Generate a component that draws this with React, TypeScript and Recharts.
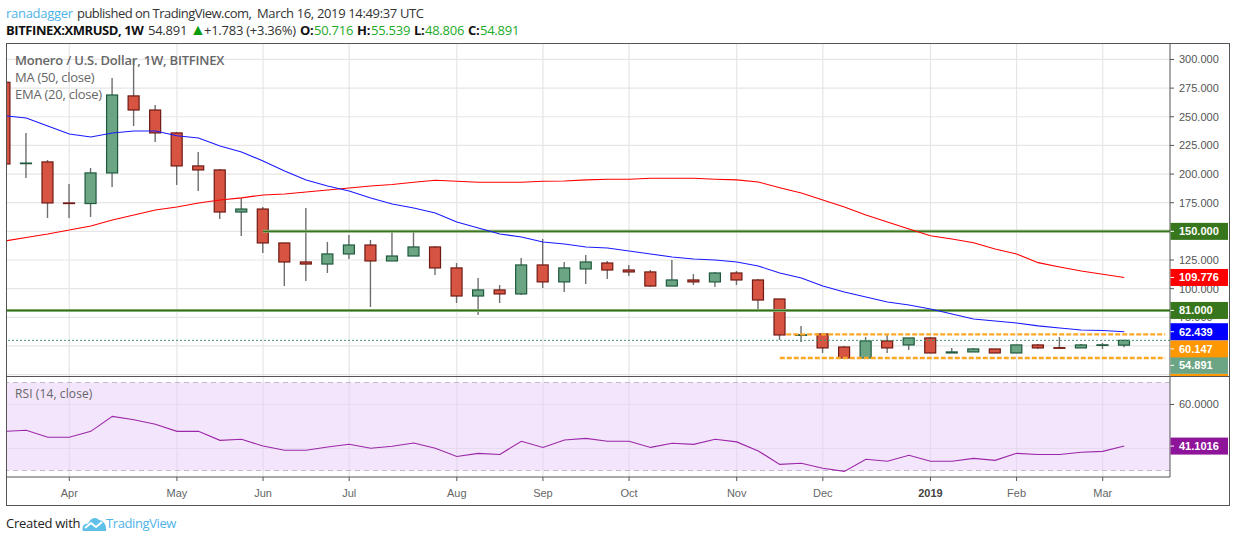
import {
  ComposedChart,
  LineChart,
  Bar,
  Line,
  XAxis,
  YAxis,
  CartesianGrid,
  ReferenceLine,
  ReferenceArea,
} from 'recharts';

// weekly candles
const opens = [280.1, 209.2, 210.6, 174.8, 174.3, 201.0, 268.2, 255.9, 235.9, 207.1, 203.6, 166.9, 169.5, 139.9, 123.3, 121.5, 130.3, 138.1, 124.2, 128.5, 136.4, 118.1, 93.6, 98.9, 95.4, 120.7, 105.9, 117.2, 122.4, 116.3, 114.6, 102.3, 107.6, 105.9, 113.7, 107.6, 91.0, 59.6, 60.5, 49.1, 39.5, 54.4, 50.9, 57.0, 43.9, 44.8, 47.4, 43.9, 50.9, 48.5, 48.3, 50.8, 50.716];
const highs = [288.0, 235.9, 212.3, 191.4, 205.3, 283.8, 299.6, 260.3, 236.7, 219.3, 204.5, 179.2, 171.3, 139.9, 170.4, 140.8, 146.9, 142.5, 150.4, 150.4, 137.3, 122.4, 109.4, 103.2, 126.8, 143.4, 123.3, 129.4, 124.2, 120.7, 116.3, 125.0, 112.8, 114.6, 115.4, 108.5, 91.0, 67.5, 60.5, 50.0, 57.8, 60.5, 57.0, 57.8, 48.3, 48.3, 47.4, 51.0, 51.7, 57.8, 51.7, 52.6, 55.539];
const lows = [206.0, 196.6, 161.7, 161.7, 162.6, 188.7, 242.0, 228.0, 190.5, 185.2, 160.8, 146.0, 131.2, 102.3, 106.7, 113.7, 125.9, 84.0, 124.2, 128.5, 112.0, 87.5, 77.1, 87.5, 94.5, 100.6, 97.1, 104.1, 108.5, 111.1, 101.5, 102.3, 103.2, 101.5, 103.2, 82.3, 55.2, 53.5, 43.9, 39.5, 39.5, 43.9, 46.5, 43.9, 43.9, 44.8, 43.9, 43.9, 47.4, 48.3, 48.3, 47.4, 48.806];
const closes = [208.8, 209.6, 174.8, 174.3, 201.0, 269.0, 255.9, 235.9, 207.1, 203.6, 166.9, 169.5, 139.9, 123.3, 121.5, 130.3, 138.1, 124.2, 128.5, 136.4, 118.1, 93.6, 98.9, 95.4, 120.7, 105.9, 118.1, 123.3, 116.3, 114.6, 102.3, 107.6, 105.9, 113.7, 107.6, 90.1, 59.6, 59.8, 48.3, 39.5, 54.4, 48.3, 57.0, 43.9, 44.8, 47.4, 43.9, 50.9, 48.3, 48.3, 50.9, 51.0, 54.891];

const emaValues = [250.9, 248.9, 242.0, 235.0, 232.4, 235.9, 237.6, 237.6, 233.5, 231.5, 224.5, 219.3, 211.4, 202.7, 194.9, 189.6, 185.2, 179.2, 173.9, 170.4, 166.0, 158.2, 153.0, 147.7, 145.1, 140.7, 139.0, 136.4, 135.5, 132.9, 130.3, 127.7, 125.9, 125.0, 123.3, 119.8, 113.7, 109.3, 102.3, 97.1, 92.8, 88.4, 85.8, 82.3, 77.9, 73.6, 71.8, 70.1, 67.5, 65.7, 64.0, 63.5, 62.439];
const maValues = [141.6, 144.7, 147.7, 151.2, 154.7, 160.0, 164.3, 168.7, 171.3, 174.8, 177.4, 179.2, 181.8, 182.6, 184.4, 186.1, 187.9, 189.6, 190.9, 192.8, 194.6, 193.7, 192.8, 192.8, 192.8, 193.7, 194.0, 194.9, 195.5, 195.5, 196.3, 196.3, 196.3, 195.5, 194.9, 193.1, 188.1, 183.5, 177.4, 171.3, 164.3, 158.2, 152.1, 146.2, 143.4, 140.1, 134.6, 130.3, 122.7, 118.9, 115.4, 112.6, 109.776];
const rsiValues = [47.8, 48.3, 45.1, 45.1, 47.8, 54.6, 53.1, 51.0, 47.8, 47.8, 43.7, 44.2, 41.1, 39.2, 39.2, 40.7, 41.9, 40.1, 41.0, 42.5, 40.1, 36.4, 37.8, 37.3, 43.3, 40.5, 43.9, 44.6, 43.3, 43.3, 40.5, 42.4, 41.9, 44.2, 43.0, 38.9, 32.8, 33.3, 31.0, 29.6, 35.1, 34.2, 36.9, 34.2, 34.2, 35.5, 34.6, 37.8, 37.3, 37.3, 38.3, 38.7, 41.1016];

const priceGridTicks = [25, 50, 75, 100, 125, 150, 175, 200, 225, 250, 275, 300];
const priceLabelTicks = [75, 100, 125, 150, 175, 200, 225, 250, 275, 300];
const rsiGridTicks = [40, 60];
const rsiLabelTicks = [60];
const monthTicks = [3, 8, 12, 16, 21, 25, 29, 34, 38, 43, 47, 51];
const monthLabels = ['Apr', 'May', 'Jun', 'Jul', 'Aug', 'Sep', 'Oct', 'Nov', 'Dec', '2019', 'Feb', 'Mar'];

// the tags that don't fit at their price are pushed down on the scale, hence shift
const priceTags = [
  { value: 39.5, text: '', color: '#ff9800', shift: 24.5 },
  { value: 54.891, text: '54.891', color: '#6ba583', shift: 25 },
  { value: 60.147, text: '60.147', color: '#ff9800', shift: 14.5 },
  { value: 62.439, text: '62.439', color: '#0000ff', shift: 0 },
  { value: 81, text: '81.000', color: '#38761d', shift: 0 },
  { value: 109.776, text: '109.776', color: '#ff0000', shift: 0 },
  { value: 150, text: '150.000', color: '#38761d', shift: 0 },
];
const rsiTags = [{ value: 41.1016, text: '41.1016', color: '#8e1599', shift: 0 }];

const priceData = opens.map((open, i) => ({
  index: i,
  open,
  high: highs[i],
  low: lows[i],
  close: closes[i],
  ema: emaValues[i],
  ma: maValues[i],
}));
const rsiData = rsiValues.map((rsi, i) => ({ index: i, rsi }));

const X_DOMAIN = [0.107, 54.125];
const PRICE_DOMAIN = [23.8, 313.5];
const RSI_DOMAIN = [27.05, 72.95];
const AXIS_FONT = '"Liberation Sans", Arial, sans-serif';
const TEXT_FONT = '"Open Sans", sans-serif';
const tickStyle = { fontSize: 11, fontFamily: AXIS_FONT, fill: '#555' };

// body and wick of one candle, scaled from the [low, high] box the Bar gives us
function Candle(props: any) {
  const { x, y, width, height, payload } = props;
  const { open, close, high, low } = payload;
  const unit = height / (high - low);
  const up = close >= open;
  const top = y + (high - Math.max(open, close)) * unit;
  const bottom = y + (high - Math.min(open, close)) * unit;
  const mid = x + width / 2;
  return (
    <g>
      <line x1={mid} x2={mid} y1={y} y2={y + height} stroke="#6e6e6e" strokeWidth={1.4} />
      <rect
        x={x}
        y={top}
        width={width}
        height={Math.max(bottom - top, 0.6)}
        fill={up ? '#6ba583' : '#d75442'}
        stroke={up ? '#1f5a3e' : '#6f1a14'}
        strokeWidth={1.2}
      />
    </g>
  );
}

function priceTag(text: string, color: string, shift: number) {
  return (props: any) => {
    const { x, y, width } = props.viewBox;
    const right = x + width;
    const cy = y + shift;
    return (
      <g>
        <rect x={right + 0.5} y={cy - 8.5} width={57.5} height={17} fill={color} />
        <line x1={right + 0.5} x2={right + 4} y1={cy} y2={cy} stroke="#fff" />
        <text x={right + 9} y={cy + 4} fontSize={11} fontWeight="bold" fontFamily={AXIS_FONT} fill="#fff">
          {text}
        </text>
      </g>
    );
  };
}

function MonthTick(props: any) {
  const { x, y, payload } = props;
  const label = monthLabels[monthTicks.indexOf(payload.value)];
  const isYear = label === '2019';
  return (
    <text
      x={x}
      y={y + 14}
      textAnchor="middle"
      fontSize={11}
      fontFamily={AXIS_FONT}
      fontWeight={isYear ? 'bold' : 'normal'}
      fill={isYear ? '#444' : '#666'}
    >
      {label}
    </text>
  );
}

function PriceChart() {
  return (
    <ComposedChart
      width={1229}
      height={377}
      data={priceData}
      margin={{ top: 44, right: 0, bottom: 1, left: 7 }}
      style={{ position: 'absolute', left: 0, top: 0 }}
    >
      <CartesianGrid stroke="#e6e6e6" strokeWidth={1.2} horizontalValues={priceGridTicks} verticalValues={monthTicks} />
      <XAxis dataKey="index" type="number" domain={X_DOMAIN} allowDataOverflow ticks={monthTicks} hide />
      <YAxis
        orientation="right"
        width={59}
        domain={PRICE_DOMAIN}
        allowDataOverflow
        ticks={priceLabelTicks}
        interval={0}
        tickFormatter={(v: number) => v.toFixed(3)}
        tick={tickStyle}
        tickSize={4}
        tickMargin={5}
        stroke="#555"
      />
      <ReferenceLine y={54.891} stroke="#3f9a70" strokeDasharray="2 2" />
      <ReferenceLine y={81} stroke="#86ad72" strokeWidth={3} />
      <ReferenceLine y={81} stroke="#2f6b14" strokeWidth={1} />
      <ReferenceLine segment={[{ x: 12, y: 150 }, { x: 54.125, y: 150 }]} stroke="#86ad72" strokeWidth={3} />
      <ReferenceLine segment={[{ x: 12, y: 150 }, { x: 54.125, y: 150 }]} stroke="#2f6b14" strokeWidth={1} />
      <ReferenceLine segment={[{ x: 36.3, y: 60.147 }, { x: 53.9, y: 60.147 }]} stroke="#ffa726" strokeWidth={2.4} strokeDasharray="5 2" />
      <ReferenceLine segment={[{ x: 36, y: 39.5 }, { x: 53.9, y: 39.5 }]} stroke="#ffa726" strokeWidth={2.4} strokeDasharray="5 2" />
      <Line dataKey="ma" stroke="#ff0000" strokeWidth={1.1} dot={false} isAnimationActive={false} />
      <Line dataKey="ema" stroke="#1a1aff" strokeWidth={1.1} dot={false} isAnimationActive={false} />
      <Bar
        dataKey={(d: any) => [d.low, d.high]}
        barSize={11}
        shape={Candle}
        isAnimationActive={false}
      />
    </ComposedChart>
  );
}

function RsiChart() {
  return (
    <LineChart
      width={1229}
      height={128}
      data={rsiData}
      margin={{ top: 0, right: 0, bottom: 0, left: 7 }}
      style={{ position: 'absolute', left: 0, top: 376 }}
    >
      <CartesianGrid stroke="#e6e6e6" strokeWidth={1.2} horizontalValues={rsiGridTicks} verticalValues={monthTicks} />
      <XAxis
        dataKey="index"
        type="number"
        domain={X_DOMAIN}
        allowDataOverflow
        ticks={monthTicks}
        interval={0}
        height={27}
        tick={MonthTick}
        tickSize={4}
        stroke="#555"
      />
      <YAxis
        orientation="right"
        width={59}
        domain={RSI_DOMAIN}
        allowDataOverflow
        ticks={rsiLabelTicks}
        interval={0}
        tickFormatter={(v: number) => v.toFixed(4)}
        tick={tickStyle}
        tickSize={4}
        tickMargin={5}
        stroke="#555"
      />
      <ReferenceArea y1={30} y2={70} fill="#e7cbf9" fillOpacity={0.5} stroke="none" />
      <ReferenceLine y={70} stroke="#c4b6cc" strokeDasharray="5 4" />
      <ReferenceLine y={30} stroke="#c4b6cc" strokeDasharray="5 4" />
      <Line dataKey="rsi" stroke="#9c27a8" strokeWidth={1.1} dot={false} isAnimationActive={false} />
    </LineChart>
  );
}

// second transparent chart on top, axis text is always drawn over reference lines otherwise
function TagOverlay({ tags, domain, top, height, margin }: any) {
  return (
    <ComposedChart
      width={1229}
      height={height}
      data={priceData}
      margin={margin}
      style={{ position: 'absolute', left: 0, top }}
    >
      <XAxis dataKey="index" type="number" domain={X_DOMAIN} allowDataOverflow hide />
      <YAxis domain={domain} allowDataOverflow hide />
      {tags.map((tag: any) => (
        <ReferenceLine
          key={tag.value}
          y={tag.value}
          stroke="none"
          label={priceTag(tag.text, tag.color, tag.shift)}
        />
      ))}
    </ComposedChart>
  );
}

function Logo() {
  return (
    <svg width="25" height="15" viewBox="0 0 25 15" style={{ position: 'absolute', left: 82, top: 516 }}>
      <path d="M1 15 C-1 10 3 7 6 8 C8 2 14 0 17 4 C21 4 25 9 24 15 Z" fill="#5ec0e8" />
      <path d="M3 12 L9 7 L14 11 L20 6" fill="none" stroke="#fff" strokeWidth={2} />
    </svg>
  );
}

const textBase = { position: 'absolute', fontFamily: TEXT_FONT, whiteSpace: 'nowrap' } as const;
const GREEN = '#22ab27';

const publishParts = [
  { left: 6, text: 'ranadagger', color: '#4fb3e8', spacing: -0.28 },
  { left: 77, text: 'published on TradingView.com,', color: '#333', spacing: -0.53 },
  { left: 257, text: 'March 16, 2019 14:49:37 UTC', color: '#333', spacing: -0.35 },
];

const quoteParts = [
  { left: 6, top: 21, size: 13, text: 'BITFINEX:XMRUSD, 1W', color: '#111', bold: true, spacing: -0.42 },
  { left: 148, top: 21, size: 13, text: '54.891', color: '#333', bold: false, spacing: -0.25 },
  { left: 190, top: 22, size: 16, text: '▲', color: '#0a9c0a', bold: false, spacing: 0 },
  { left: 204, top: 21, size: 13, text: '+1.783 (+3.36%)', color: '#333', bold: false, spacing: -0.25 },
  { left: 300, top: 21, size: 13, text: 'O:', color: '#111', bold: true, spacing: -0.3 },
  { left: 314, top: 21, size: 13, text: '50.716', color: GREEN, bold: false, spacing: -0.25 },
  { left: 357, top: 21, size: 13, text: 'H:', color: '#111', bold: true, spacing: -0.3 },
  { left: 371, top: 21, size: 13, text: '55.539', color: GREEN, bold: false, spacing: -0.25 },
  { left: 414, top: 21, size: 13, text: 'L:', color: '#111', bold: true, spacing: -0.3 },
  { left: 425, top: 21, size: 13, text: '48.806', color: GREEN, bold: false, spacing: -0.25 },
  { left: 468, top: 21, size: 13, text: 'C:', color: '#111', bold: true, spacing: -0.3 },
  { left: 480, top: 21, size: 13, text: '54.891', color: GREEN, bold: false, spacing: -0.25 },
];

export default function App() {
  return (
    <div style={{ position: 'absolute', left: 0, top: 0, width: 1234, height: 541, background: '#fff', overflow: 'hidden' }}>
      <PriceChart />
      <RsiChart />
      <TagOverlay tags={priceTags} domain={PRICE_DOMAIN} top={0} height={377} margin={{ top: 44, right: 59, bottom: 1, left: 7 }} />
      <TagOverlay tags={rsiTags} domain={RSI_DOMAIN} top={376} height={128} margin={{ top: 0, right: 59, bottom: 27, left: 7 }} />
      <div style={{ position: 'absolute', left: 6, top: 43, width: 1222, height: 461, border: '1px solid #555', boxSizing: 'content-box', pointerEvents: 'none' }} />
      <div style={{ position: 'absolute', left: 6, top: 376, width: 1223, height: 1, background: '#555' }} />

      {publishParts.map((part) => (
        <div key={part.left} style={{ ...textBase, left: part.left, top: 4, fontSize: 13, color: part.color, letterSpacing: part.spacing }}>
          {part.text}
        </div>
      ))}
      {quoteParts.map((part) => (
        <div
          key={part.left}
          style={{ ...textBase, left: part.left, top: part.top, fontSize: part.size, lineHeight: part.size === 16 ? '14px' : undefined, color: part.color, fontWeight: part.bold ? 'bold' : 'normal', letterSpacing: part.spacing }}
        >
          {part.text}
        </div>
      ))}

      <div style={{ ...textBase, left: 15, top: 51, fontSize: 13, fontWeight: 600, color: '#666', letterSpacing: -0.2 }}>Monero / U.S. Dollar, 1W, BITFINEX</div>
      <div style={{ ...textBase, left: 15, top: 68, fontSize: 13, color: '#666', letterSpacing: -0.3 }}>MA (50, close)</div>
      <div style={{ ...textBase, left: 15, top: 85, fontSize: 13, color: '#666', letterSpacing: -0.25 }}>EMA (20, close)</div>
      <div style={{ ...textBase, left: 15, top: 385, fontSize: 12, color: '#666', letterSpacing: 0.1 }}>RSI (14, close)</div>

      <div style={{ ...textBase, left: 6, top: 514, fontSize: 13, color: '#222', letterSpacing: -0.25 }}>Created with</div>
      <Logo />
      <div style={{ ...textBase, left: 106, top: 514, fontSize: 13, color: '#4fb3e8', letterSpacing: -0.4 }}>TradingView</div>
    </div>
  );
}
